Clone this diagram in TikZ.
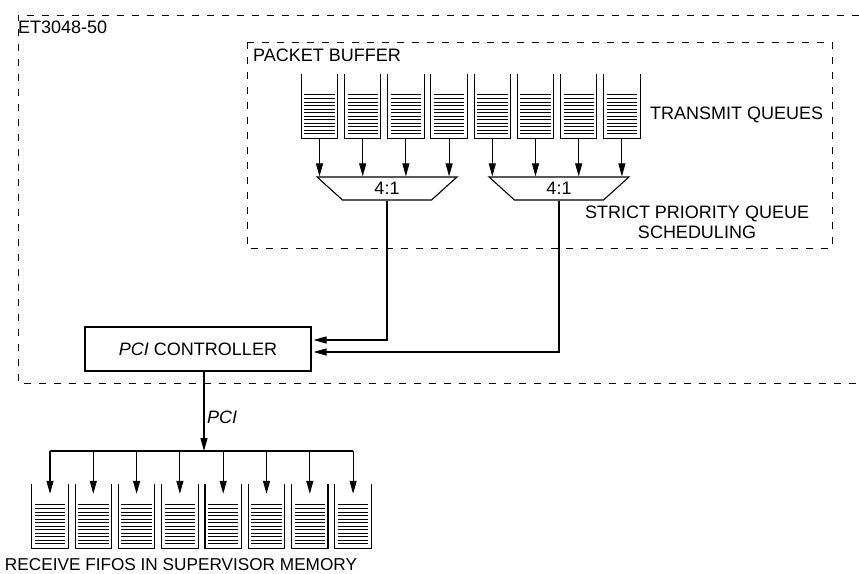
\documentclass[tikz,border=0pt]{standalone}
\usepackage{fontspec}
\setmainfont{Liberation Sans}
\usetikzlibrary{arrows.meta,shapes.geometric}

\begin{document}
\begin{tikzpicture}[x=1pt,y=-1pt,
  lbl/.style={font=\fontsize{18}{20}\selectfont, inner sep=0pt},
  ln/.style={line width=1.1pt},
  fr/.style={line width=1pt, dash pattern=on 7pt off 8pt},
  arr/.style={ln, -{Triangle[length=13pt,width=7pt]}},
  qslot/.style={minimum width=36pt, minimum height=64pt, inner sep=0pt, draw=none},
  qline/.style={line width=0.8pt},
  mux/.style={trapezium, shape border rotate=180, trapezium stretches=true,
    draw, ln, minimum width=140pt, minimum height=23pt, trapezium angle=60,
    inner sep=0pt, font=\fontsize{18}{20}\selectfont},
]
\useasboundingbox (0,0) rectangle (859,573);

% device and packet buffer frames
\draw[fr] (859,15) -- (18,15) -- (18,383) -- (859,383);
\draw[fr] (247,42) rectangle (832,248);

\node[lbl, anchor=base west] (dev) at (18,33) {ET3048-50};
\node[lbl, anchor=base west] (pbuf) at (253,61) {PACKET BUFFER};
\node[lbl, anchor=base west] (txq) at (650,119) {TRANSMIT QUEUES};
\node[lbl, anchor=north, align=center] (sched) at (697,206) {STRICT PRIORITY QUEUE\\SCHEDULING};

% transmit queues
\foreach \i in {1,...,8} {
  \node[qslot] (tq\i) at ({319.5+43.2*(\i-1)},106) {};
  \draw[ln] (tq\i.north west) -- (tq\i.south west) -- (tq\i.south east) -- (tq\i.north east);
  \foreach \k in {0,...,11}
    \draw[qline] ([xshift=3pt,yshift={-21pt-3.55pt*\k}]tq\i.north west)
      -- ([xshift=-3pt,yshift={-21pt-3.55pt*\k}]tq\i.north east);
}

% 4:1 schedulers
\node[mux] (mux1) at (387,188.5) {4:1};
\node[mux] (mux2) at (559,188.5) {4:1};
\foreach \i in {1,...,4} \draw[arr] (tq\i.south) -- (tq\i.south |- mux1.north);
\foreach \i in {5,...,8} \draw[arr] (tq\i.south) -- (tq\i.south |- mux2.north);

% PCI controller
\node[draw, ln, minimum width=226pt, minimum height=44pt, lbl] (ctrl) at (198,349) {\textit{PCI} CONTROLLER};
\draw[arr, shorten >=2pt] (mux1.south) |- ([yshift=9pt]ctrl.east);
\draw[arr, shorten >=2pt] (mux2.south) |- ([yshift=-3pt]ctrl.east);

% receive FIFOs
\foreach \i in {1,...,8} {
  \node[qslot] (rf\i) at ({50+43.3*(\i-1)},516) {};
  \draw[ln] (rf\i.north west) -- (rf\i.south west) -- (rf\i.south east) -- (rf\i.north east);
  \foreach \k in {0,...,11}
    \draw[qline] ([xshift=3pt,yshift={-21pt-3.55pt*\k}]rf\i.north west)
      -- ([xshift=-3pt,yshift={-21pt-3.55pt*\k}]rf\i.north east);
}

% PCI bus
\coordinate (bus) at (204,451);
\draw[arr] ([xshift=6pt]ctrl.south) -- (bus);
\node[lbl, anchor=base west, font=\fontsize{18}{20}\selectfont\itshape] (pcilbl) at (207,423) {PCI};
\draw[ln] (rf1.north |- bus) -- (rf8.north |- bus);
\foreach \i in {1,...,8} \draw[arr] (rf\i.north |- bus) -- ([yshift=-10pt]rf\i.north);

\node[lbl, anchor=base, font=\fontsize{17.2}{20}\selectfont] (rxlbl) at (181,570) {RECEIVE FIFOS IN SUPERVISOR MEMORY};
\end{tikzpicture}
\end{document}
